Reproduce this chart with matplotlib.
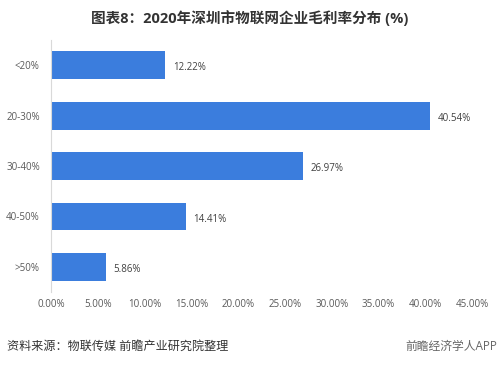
import matplotlib.pyplot as plt

plt.rcParams['font.family'] = ['Open Sans', 'Noto Sans CJK SC', 'DejaVu Sans']

# data
categories = ['<20%', '20-30%', '30-40%', '40-50%', '>50%']
values = [12.22, 40.54, 26.97, 14.41, 5.86]
xticks = [0, 5, 10, 15, 20, 25, 30, 35, 40, 45]

fig = plt.figure(figsize=(4.99, 3.67), dpi=100)
ax = fig.add_axes([0.102, 0.204, 0.844, 0.687])

ypos = list(range(len(categories)))
ax.barh(ypos, values, height=0.55, color='#3b7ddd')
for y, v in zip(ypos, values):
    ax.text(v + 0.8, y + 0.05, '%.2f%%' % v, va='center', ha='left', fontsize=7, color='#404040')

ax.set_xlim(0, 45)
ax.set_ylim(4.5, -0.5)
ax.set_yticks(ypos)
ax.set_yticklabels(categories)
ax.set_xticks(xticks)
ax.set_xticklabels(['%.2f%%' % t for t in xticks])
ax.tick_params(axis='both', length=0, labelsize=7, colors='#595959', pad=5)
ax.tick_params(axis='y', pad=8)

for s in ['top', 'right', 'bottom']:
    ax.spines[s].set_visible(False)
ax.spines['left'].set_color('#d9d9d9')
ax.spines['left'].set_linewidth(0.8)

fig.text(0.5, 0.951, '图表8：2020年深圳市物联网企业毛利率分布 (%)', ha='center', va='center',
         fontsize=10.5, fontweight='bold', color='#333333')
fig.text(0.014, 0.057, '资料来源：物联传媒 前瞻产业研究院整理', ha='left', va='center',
         fontsize=8.7, color='#333333')
fig.text(0.996, 0.057, '前瞻经济学人APP', ha='right', va='center',
         fontsize=8.5, color='#666666')

fig.savefig('out.png', dpi=100)
